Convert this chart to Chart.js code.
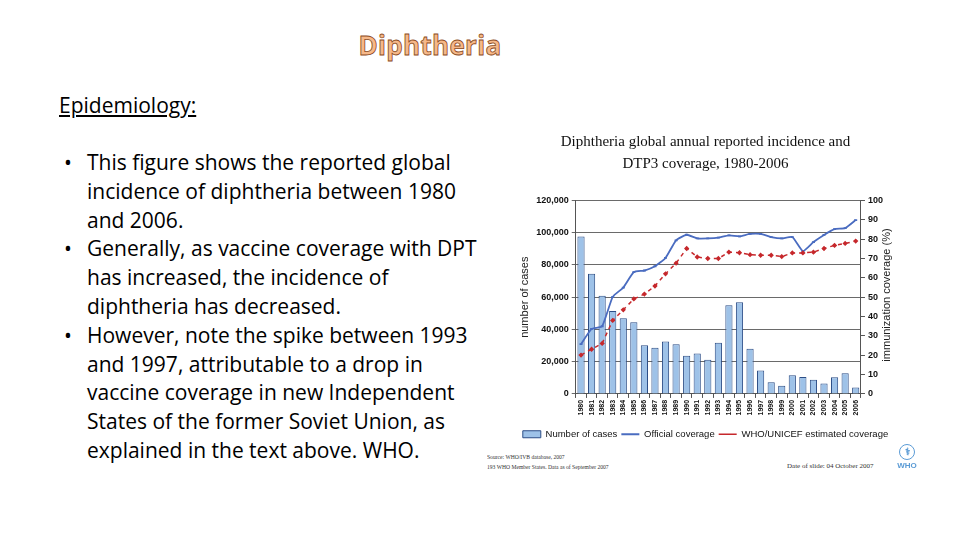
<!DOCTYPE html>
<html>
<head>
<meta charset="utf-8">
<script src="https://cdn.jsdelivr.net/npm/chart.js"></script>
<style>
  body { margin: 0; width: 960px; height: 540px; background: #fff; position: relative; overflow: hidden; font-family: "Open Sans", Lato, sans-serif; }
  #heading { position: absolute; left: 0; width: 860px; top: 27px; text-align: center; font-size: 26px; font-weight: bold; color: #f6b889; -webkit-text-stroke: 0.8px #8a4a1c; letter-spacing: 0.3px; }
  #sub { position: absolute; left: 59px; top: 91px; font-size: 21px; text-decoration: underline; color: #000; }
  #bullets { position: absolute; left: 70px; top: 148px; width: 430px; font-size: 21px; line-height: 28.8px; color: #000; margin: 0; padding: 0; list-style: none; }
  #bullets li { padding-left: 17px; position: relative; }
  #bullets li:before { content: "\2022"; position: absolute; left: -6px; }
  #wrap { position: absolute; left: 509px; top: 128px; width: 386px; height: 321px; }
  #rtitle { position: absolute; left: 886px; top: 295px; transform: translate(-50%, -50%) rotate(-90deg); font: 11px Arial, "Liberation Sans", sans-serif; color: #222; white-space: nowrap; }
  .src { position: absolute; font: 7px "Liberation Serif", serif; color: #333; white-space: nowrap; transform-origin: 0 0; }
  #who { position: absolute; left: 896px; top: 444px; width: 22px; font: bold 8px Arial, sans-serif; color: #5b9bd5; text-align: center; }
  #who .emb { width: 14px; height: 14px; margin: 0 auto 1px; border: 1.5px solid #5b9bd5; border-radius: 50%; font-size: 10px; line-height: 14px; }
</style>
</head>
<body>
<div id="heading">Diphtheria</div>
<div id="sub">Epidemiology:</div>
<ul id="bullets">
  <li>This figure shows the reported global<br>incidence of diphtheria between 1980<br>and 2006.</li>
  <li>Generally, as vaccine coverage with DPT<br>has increased, the incidence of<br>diphtheria has decreased.</li>
  <li>However, note the spike between 1993<br>and 1997, attributable to a drop in<br>vaccine coverage in new Independent<br>States of the former Soviet Union, as<br>explained in the text above. WHO.</li>
</ul>
<div id="wrap"><canvas id="chart"></canvas></div>
<div id="rtitle">immunization coverage (%)</div>
<div class="src" style="left:487px; top:453px; transform: scaleX(0.8);">Source: WHO/IVB database, 2007</div>
<div class="src" style="left:487px; top:463px; transform: scaleX(0.8);">193 WHO Member States. Data as of September 2007</div>
<div class="src" style="left:787px; top:462px;">Date of slide: 04 October 2007</div>
<div id="who"><div class="emb">&#9877;</div>WHO</div>
<script>
const years = ['1980', '1981', '1982', '1983', '1984', '1985', '1986', '1987', '1988', '1989',
    '1990', '1991', '1992', '1993', '1994', '1995', '1996', '1997', '1998', '1999',
    '2000', '2001', '2002', '2003', '2004', '2005', '2006'];

const cases = [97600, 74600, 60900, 51500, 46900, 44400, 30200, 28700, 32500, 30800,
    23700, 25100, 21200, 31800, 55000, 56900, 28100, 14500, 7200, 5000,
    11600, 10500, 8800, 6500, 10300, 12800, 4000];

const officialCoverage = [25.7, 33.6, 35, 50.2, 55, 63, 63.8, 66, 70.3, 79.4,
    82.3, 80.4, 80.4, 80.8, 82, 81.5, 82.7, 82.7, 81.1, 80.4,
    81.1, 73.8, 78.5, 82.2, 85.2, 85.7, 89.9];

const estimatedCoverage = [20.1, 23.1, 26.1, 38, 43.5, 49.1, 51.6, 55.8, 62.1, 67.6,
    75.2, 70.8, 70, 70, 73.3, 73, 72, 71.7, 71.7, 71,
    72.9, 72.9, 73.3, 75.2, 76.8, 77.8, 79];

const tickFont = { family: 'Arial, "Liberation Sans", sans-serif', size: 9, weight: 'bold' };

function legendLabels(chart) {
    const items = Chart.defaults.plugins.legend.labels.generateLabels(chart);
    for (const item of items) {
        item.pointStyle = item.datasetIndex === 0 ? 'rect' : 'line';
    }
    return items.sort((a, b) => a.datasetIndex - b.datasetIndex);
}

function drawChart() {
    const context = document.getElementById('chart');

    new Chart(context, {
        data: {
            labels: years,
            datasets: [{
                type: 'bar',
                label: 'Number of cases',
                data: cases,
                yAxisID: 'y',
                backgroundColor: '#9ec2e8',
                borderColor: '#2c4d86',
                borderWidth: 1,
                barPercentage: 0.68,
                categoryPercentage: 1,
                order: 2
            }, {
                type: 'line',
                label: 'Official coverage',
                data: officialCoverage,
                yAxisID: 'y1',
                borderColor: '#4a6cc0',
                backgroundColor: '#4a6cc0',
                borderWidth: 1.8,
                pointRadius: 1.5,
                pointStyle: 'line',
                tension: 0.15,
                order: 1
            }, {
                type: 'line',
                label: 'WHO/UNICEF estimated coverage',
                data: estimatedCoverage,
                yAxisID: 'y1',
                borderColor: '#c6282c',
                backgroundColor: '#c6282c',
                borderWidth: 1.5,
                borderDash: [4, 4],
                pointRadius: 1.6,
                pointStyle: 'rectRot',
                order: 0
            }]
        },
        options: {
            responsive: true,
            maintainAspectRatio: false,
            animation: false,
            layout: { padding: { left: 7, right: 0, top: 3, bottom: 0 } },
            plugins: {
                title: {
                    display: true,
                    text: ['Diphtheria global annual reported incidence and', 'DTP3 coverage, 1980-2006'],
                    font: { family: '"Liberation Serif", serif', size: 15, weight: 'normal', lineHeight: 1.45 },
                    color: '#111',
                    padding: { top: 0, bottom: 26 }
                },
                legend: {
                    position: 'bottom',
                    labels: {
                        usePointStyle: true,
                        pointStyleWidth: 18,
                        boxHeight: 7,
                        font: { family: 'Arial, "Liberation Sans", sans-serif', size: 9.5 },
                        color: '#111',
                        padding: 4,
                        generateLabels: legendLabels
                    }
                },
                tooltip: { enabled: false }
            },
            scales: {
                x: {
                    offset: true,
                    grid: { drawOnChartArea: false, tickLength: 4, color: '#555' },
                    border: { color: '#555' },
                    ticks: { font: { family: tickFont.family, size: 7, weight: 'bold' }, color: '#111', maxRotation: 90, minRotation: 90, autoSkip: false, padding: 2 },
                    afterFit: scale => { scale.height += 8; }
                },
                y: {
                    position: 'left',
                    min: 0,
                    max: 120000,
                    grid: { color: '#6a6a6a', tickLength: 4 },
                    border: { color: '#555' },
                    title: { display: true, text: 'number of cases', font: { family: tickFont.family, size: 11 }, color: '#222', padding: 2 },
                    ticks: {
                        stepSize: 20000,
                        font: tickFont,
                        color: '#111',
                        callback: value => value.toLocaleString('en-US')
                    }
                },
                y1: {
                    position: 'right',
                    min: 0,
                    max: 100,
                    grid: { drawOnChartArea: false, tickLength: 4, color: '#555' },
                    border: { color: '#555' },
                    ticks: { stepSize: 10, font: tickFont, color: '#111' },
                    afterFit: scale => { scale.width += 9; }
                }
            }
        }
    });
}

drawChart();
</script>
</body>
</html>
